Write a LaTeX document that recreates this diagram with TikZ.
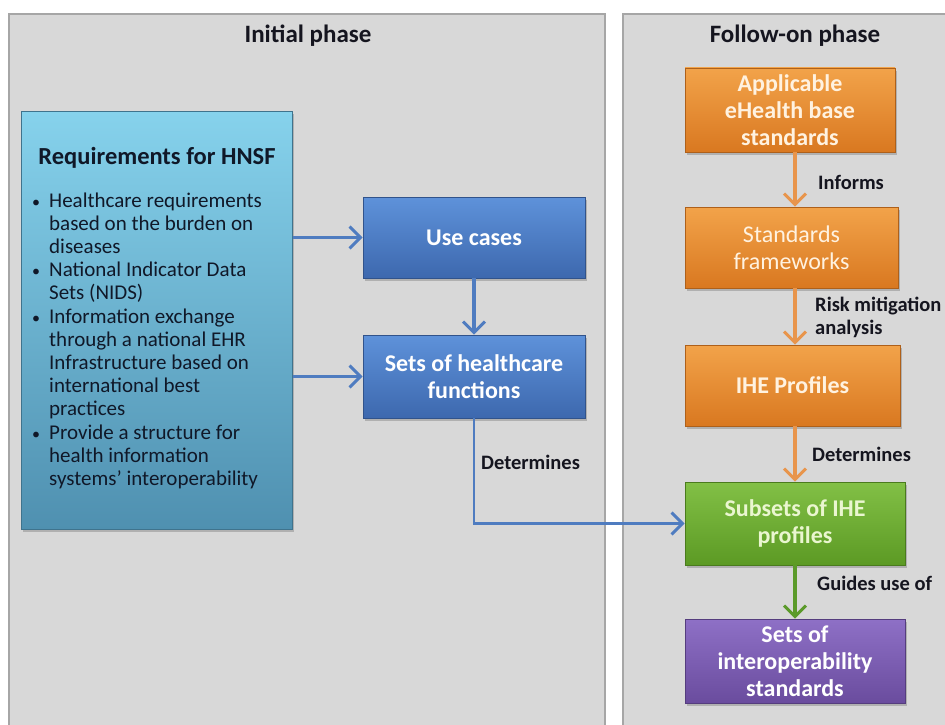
\documentclass[tikz,border=0pt]{standalone}
\usepackage{fontspec}
\setmainfont{Carlito}
\usetikzlibrary{arrows.meta,shadows}
\definecolor{panelfill}{HTML}{D8D8D8}
\definecolor{panelline}{HTML}{A6A6A6}
\definecolor{reqtop}{HTML}{86D2EC}
\definecolor{reqbot}{HTML}{4F90B0}
\definecolor{bluetop}{HTML}{5E92DA}
\definecolor{bluebot}{HTML}{3D68AE}
\definecolor{orgtop}{HTML}{F2A34A}
\definecolor{orgbot}{HTML}{D97820}
\definecolor{grntop}{HTML}{82C046}
\definecolor{grnbot}{HTML}{5C9A24}
\definecolor{purtop}{HTML}{8E70C6}
\definecolor{purbot}{HTML}{6A4C9E}
\definecolor{bluearr}{HTML}{4F7CC0}
\definecolor{orgarr}{HTML}{E8954C}
\definecolor{grnarr}{HTML}{5B9A2A}
\definecolor{darktext}{HTML}{15151F}
\definecolor{reqtext}{HTML}{101828}
\definecolor{creamtext}{HTML}{FFF2E0}
\definecolor{greentext}{HTML}{EAF6D0}
\begin{document}
\begin{tikzpicture}[x=1pt,y=-1pt,
  panelbox/.style={draw=panelline, line width=1.3pt, fill=panelfill},
  flowbox/.style={inner sep=2pt, align=center, draw=#1bot!80!black, line width=0.6pt,
    top color=#1top, bottom color=#1bot,
    drop shadow={shadow xshift=2pt, shadow yshift=-3pt, opacity=0.45}},
  boxfont/.style={font=\fontsize{24}{27}\selectfont\bfseries},
  lblfont/.style={font=\fontsize{20.5}{23}\selectfont\bfseries, text=darktext, inner sep=0pt},
  bodyfont/.style={font=\fontsize{21}{23.2}\selectfont, text=reqtext, inner sep=0pt},
  bulfont/.style={font=\fontsize{16}{20}\selectfont, text=reqtext, inner sep=0pt},
  conn/.style={line width=3.2pt, -{Straight Barb[length=11pt, width=22pt, line width=3pt]}},
]
\useasboundingbox (0,0) rectangle (945,725);
\fill[white] (0,0) rectangle (945,725);
% panels
\draw[panelbox] (9,14) rectangle (605,740);
\draw[panelbox] (623,14) rectangle (960,740);
\node[font=\fontsize{25}{28}\selectfont\bfseries, text=darktext] (t1) at (308,36) {Initial phase};
\node[font=\fontsize{25}{28}\selectfont\bfseries, text=darktext] (t2) at (795,36) {Follow-on phase};

% requirements box
\node[flowbox=req, minimum width=271pt, minimum height=418pt, anchor=north west] (req) at (21,111) {};
\node[font=\fontsize{24.5}{28}\selectfont\bfseries, text=reqtext] (reqt) at (157,158) {Requirements for HNSF};
\node[bulfont, anchor=base west] (b1) at (32,207) {•};
\node[bodyfont, anchor=base west, align=left] (l1) at (49,253.4) {Healthcare requirements\\based on the burden on\\diseases};
\node[bulfont, anchor=base west] (b2) at (32,276.6) {•};
\node[bodyfont, anchor=base west, align=left] (l2) at (49,299.8) {National Indicator Data\\Sets (NIDS)};
\node[bulfont, anchor=base west] (b3) at (32,323) {•};
\node[bodyfont, anchor=base west, align=left] (l3) at (49,415.8) {Information exchange\\through a national EHR\\Infrastructure based on\\international best\\practices};
\node[bulfont, anchor=base west] (b4) at (32,439) {•};
\node[bodyfont, anchor=base west, align=left] (l4) at (49,485.4) {Provide a structure for\\health information\\systems’ interoperability};

% initial phase flow
\node[flowbox=blue, boxfont, text=white, minimum width=222pt, minimum height=81pt] (uc) at (474,237.5) {Use cases};
\node[flowbox=blue, boxfont, text=white, minimum width=222pt, minimum height=83pt] (hc) at (474,376.5) {Sets of healthcare\\functions};

% follow-on phase
\node[flowbox=org, boxfont, text=creamtext, minimum width=210pt, minimum height=84pt] (app) at (790,110) {Applicable\\eHealth base\\standards};
\node[flowbox=org, font=\fontsize{24}{27}\selectfont, text=creamtext, minimum width=213pt, minimum height=81pt] (std) at (791.5,247.5) {Standards\\frameworks};
\node[flowbox=org, boxfont, text=creamtext, minimum width=215pt, minimum height=81pt] (ihe) at (792.5,385.5) {IHE Profiles};
\node[flowbox=grn, boxfont, text=greentext, minimum width=220pt, minimum height=83pt] (sub) at (795,523.5) {Subsets of IHE\\profiles};
\node[flowbox=pur, boxfont, text=white, minimum width=220pt, minimum height=84pt] (iop) at (795,661) {Sets of\\interoperability\\standards};

\coordinate (ax) at (795,0);
% connectors
\draw[conn, bluearr] (req.east |- uc.west) -- (uc.west);
\draw[conn, bluearr] (req.east |- hc.west) -- (hc.west);
\draw[conn, bluearr] (uc.south) -- (hc.north);
\draw[conn, bluearr, line width=2.6pt] (hc.south) |- (sub.west);
\draw[conn, orgarr] (app.south -| ax) -- (std.north -| ax);
\draw[conn, orgarr] (std.south -| ax) -- (ihe.north -| ax);
\draw[conn, orgarr] (ihe.south -| ax) -- (sub.north -| ax);
\draw[conn, grnarr] (sub.south -| ax) -- (iop.north -| ax);

% labels
\node[lblfont, anchor=west] (d1) at (481,462) {Determines};
\node[lblfont, anchor=west] (inf) at (818,182) {Informs};
\node[lblfont, anchor=base west, align=left] (risk) at (815,334) {Risk mitigation\\analysis};
\node[lblfont, anchor=west] (d2) at (812,454) {Determines};
\node[lblfont, anchor=west] (gu) at (817,583) {Guides use of};
\end{tikzpicture}
\end{document}
